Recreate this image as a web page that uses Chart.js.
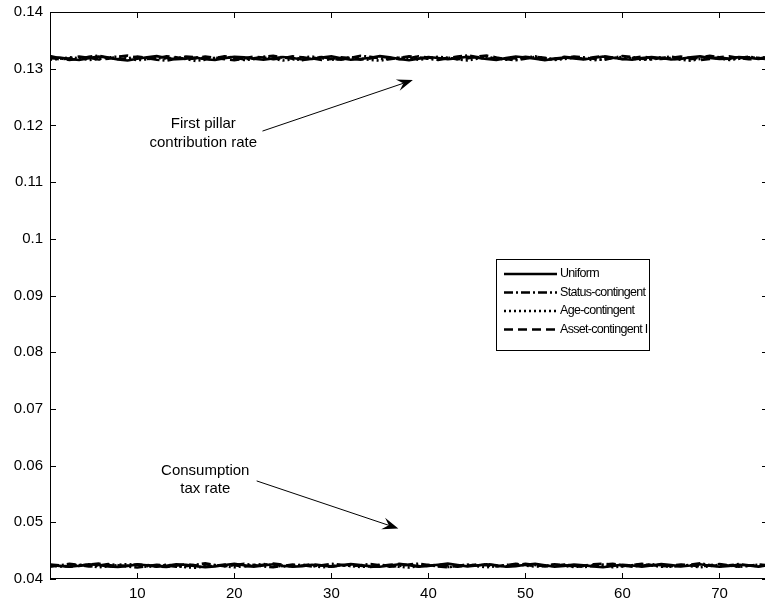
<!DOCTYPE html>
<html>
<head>
<meta charset="utf-8">
<script src="https://cdn.jsdelivr.net/npm/chart.js@4/dist/chart.umd.min.js"></script>
<style>
  html, body { margin: 0; padding: 0; background: #fff; overflow: hidden; }
  #wrap { width: 770px; height: 604px; }
</style>
</head>
<body>
<div id="wrap"><canvas id="c" width="770" height="604"></canvas></div>
<script>
// Periods on the horizontal axis
const periods = Array.from({ length: 75 }, (_, i) => i + 1);

// Axis ticks
const xTickValues = [10, 20, 30, 40, 50, 60, 70];
const yTickValues = [0.04, 0.05, 0.06, 0.07, 0.08, 0.09, 0.10, 0.11, 0.12, 0.13, 0.14];
const yTickLabels = ['0.04', '0.05', '0.06', '0.07', '0.08', '0.09', '0.1', '0.11', '0.12', '0.13', '0.14'];

// Series names
const seriesNames = ['Uniform', 'Status-contingent', 'Age-contingent', 'Asset-contingent I'];

// First pillar contribution rate, per scheme
const uniformContrib = [
  0.13182,0.13198,0.13170,0.13154,0.13186,0.13214,0.13194,0.13162,0.13146,0.13174,
  0.13202,0.13222,0.13190,0.13166,0.13178,0.13198,0.13166,0.13154,0.13186,0.13210,
  0.13202,0.13174,0.13158,0.13182,0.13206,0.13190,0.13162,0.13174,0.13198,0.13218,
  0.13186,0.13158,0.13170,0.13194,0.13222,0.13202,0.13170,0.13150,0.13178,0.13206,
  0.13190,0.13166,0.13186,0.13210,0.13194,0.13170,0.13154,0.13186,0.13214,0.13198,
  0.13174,0.13150,0.13178,0.13198,0.13182,0.13162,0.13190,0.13214,0.13194,0.13170,
  0.13158,0.13186,0.13206,0.13190,0.13162,0.13174,0.13202,0.13218,0.13190,0.13170,
  0.13178,0.13206,0.13194,0.13174,0.13190
];
const statusContrib = [
  0.13222,0.13186,0.13154,0.13174,0.13210,0.13230,0.13198,0.13170,0.13182,0.13214,
  0.13190,0.13158,0.13142,0.13178,0.13214,0.13202,0.13174,0.13190,0.13218,0.13194,
  0.13166,0.13182,0.13210,0.13226,0.13198,0.13174,0.13150,0.13186,0.13206,0.13178,
  0.13158,0.13190,0.13226,0.13210,0.13182,0.13166,0.13194,0.13218,0.13198,0.13174,
  0.13154,0.13186,0.13214,0.13234,0.13206,0.13174,0.13190,0.13170,0.13150,0.13178,
  0.13210,0.13194,0.13166,0.13186,0.13214,0.13202,0.13174,0.13154,0.13190,0.13222,
  0.13206,0.13178,0.13162,0.13190,0.13214,0.13182,0.13166,0.13198,0.13226,0.13202,
  0.13174,0.13186,0.13210,0.13190,0.13166
];
const ageContrib = [
  0.13158,0.13174,0.13202,0.13186,0.13154,0.13170,0.13198,0.13214,0.13182,0.13150,
  0.13166,0.13194,0.13178,0.13198,0.13170,0.13138,0.13158,0.13186,0.13210,0.13182,
  0.13154,0.13170,0.13198,0.13174,0.13146,0.13162,0.13194,0.13214,0.13186,0.13158,
  0.13174,0.13202,0.13178,0.13154,0.13142,0.13170,0.13198,0.13186,0.13158,0.13182,
  0.13210,0.13194,0.13166,0.13146,0.13174,0.13202,0.13186,0.13158,0.13170,0.13198,
  0.13218,0.13186,0.13154,0.13170,0.13194,0.13178,0.13150,0.13166,0.13186,0.13210,
  0.13182,0.13154,0.13174,0.13202,0.13186,0.13158,0.13142,0.13170,0.13198,0.13182,
  0.13154,0.13174,0.13202,0.13186,0.13210
];
const assetContrib = [
  0.13198,0.13166,0.13182,0.13214,0.13194,0.13162,0.13178,0.13210,0.13230,0.13198,
  0.13170,0.13186,0.13218,0.13202,0.13170,0.13182,0.13214,0.13194,0.13166,0.13150,
  0.13182,0.13214,0.13198,0.13166,0.13186,0.13218,0.13202,0.13182,0.13154,0.13170,
  0.13202,0.13186,0.13158,0.13182,0.13210,0.13194,0.13166,0.13186,0.13218,0.13198,
  0.13170,0.13190,0.13166,0.13182,0.13214,0.13230,0.13198,0.13170,0.13186,0.13210,
  0.13186,0.13158,0.13174,0.13210,0.13190,0.13174,0.13202,0.13222,0.13198,0.13166,
  0.13186,0.13214,0.13190,0.13170,0.13190,0.13214,0.13186,0.13154,0.13170,0.13202,
  0.13218,0.13190,0.13166,0.13178,0.13202
];

// Consumption tax rate, per scheme
const uniformTax = [
  0.04247,0.04231,0.04215,0.04235,0.04259,0.04247,0.04223,0.04211,0.04231,0.04255,
  0.04243,0.04219,0.04231,0.04259,0.04251,0.04227,0.04207,0.04223,0.04247,0.04267,
  0.04243,0.04219,0.04239,0.04259,0.04235,0.04215,0.04227,0.04251,0.04239,0.04219,
  0.04243,0.04263,0.04247,0.04223,0.04215,0.04239,0.04259,0.04243,0.04219,0.04231,
  0.04251,0.04271,0.04247,0.04223,0.04239,0.04259,0.04239,0.04215,0.04227,0.04251,
  0.04267,0.04243,0.04219,0.04231,0.04255,0.04243,0.04223,0.04207,0.04231,0.04251,
  0.04239,0.04219,0.04239,0.04263,0.04247,0.04223,0.04239,0.04259,0.04235,0.04215,
  0.04231,0.04251,0.04239,0.04219,0.04243
];
const statusTax = [
  0.04215,0.04239,0.04267,0.04247,0.04223,0.04235,0.04263,0.04243,0.04219,0.04203,
  0.04227,0.04251,0.04239,0.04215,0.04227,0.04251,0.04275,0.04247,0.04227,0.04243,
  0.04267,0.04247,0.04223,0.04207,0.04231,0.04255,0.04243,0.04223,0.04243,0.04267,
  0.04251,0.04227,0.04243,0.04263,0.04243,0.04219,0.04231,0.04255,0.04271,0.04247,
  0.04223,0.04207,0.04231,0.04251,0.04239,0.04263,0.04243,0.04223,0.04243,0.04267,
  0.04247,0.04223,0.04235,0.04255,0.04235,0.04211,0.04231,0.04255,0.04267,0.04243,
  0.04219,0.04235,0.04259,0.04243,0.04219,0.04231,0.04251,0.04275,0.04247,0.04227,
  0.04243,0.04263,0.04243,0.04223,0.04247
];
const ageTax = [
  0.04239,0.04219,0.04231,0.04251,0.04231,0.04207,0.04223,0.04247,0.04263,0.04239,
  0.04215,0.04227,0.04251,0.04231,0.04207,0.04199,0.04223,0.04243,0.04227,0.04207,
  0.04227,0.04247,0.04263,0.04239,0.04219,0.04231,0.04251,0.04231,0.04207,0.04223,
  0.04247,0.04231,0.04211,0.04227,0.04251,0.04235,0.04215,0.04203,0.04227,0.04247,
  0.04231,0.04211,0.04231,0.04251,0.04227,0.04207,0.04223,0.04247,0.04263,0.04239,
  0.04219,0.04231,0.04251,0.04231,0.04211,0.04227,0.04247,0.04231,0.04207,0.04223,
  0.04243,0.04259,0.04239,0.04215,0.04227,0.04247,0.04227,0.04207,0.04227,0.04251,
  0.04235,0.04215,0.04231,0.04251,0.04231
];
const assetTax = [
  0.04255,0.04239,0.04219,0.04231,0.04255,0.04271,0.04247,0.04227,0.04239,0.04259,
  0.04247,0.04223,0.04211,0.04235,0.04259,0.04243,0.04219,0.04231,0.04255,0.04243,
  0.04219,0.04231,0.04251,0.04271,0.04251,0.04227,0.04239,0.04259,0.04243,0.04223,
  0.04235,0.04255,0.04235,0.04211,0.04227,0.04251,0.04267,0.04247,0.04223,0.04235,
  0.04255,0.04239,0.04219,0.04231,0.04255,0.04243,0.04223,0.04243,0.04267,0.04247,
  0.04227,0.04239,0.04259,0.04243,0.04219,0.04235,0.04259,0.04271,0.04247,0.04227,
  0.04247,0.04267,0.04247,0.04223,0.04235,0.04255,0.04243,0.04223,0.04243,0.04263,
  0.04243,0.04219,0.04235,0.04255,0.04243
];

// Line dash per scheme: solid, dash-dot, dotted, dashed
const dashes = [[], [9, 3, 2, 3], [2, 3], [9, 5]];
const FONT = '"Liberation Sans", Arial, Helvetica, sans-serif';
const LINE_W = 2.6;

function toPoints(values) {
  return values.map((v, i) => ({ x: periods[i], y: v }));
}

const contribSeries = [uniformContrib, statusContrib, ageContrib, assetContrib];
const taxSeries = [uniformTax, statusTax, ageTax, assetTax];

const datasets = [];
[contribSeries, taxSeries].forEach(group => group.forEach((vals, k) => datasets.push({
  label: seriesNames[k], data: toPoints(vals), borderColor: '#000', borderWidth: LINE_W,
  borderDash: dashes[k], pointRadius: 0, tension: 0, fill: false
})));

// Frame, inward tick marks, legend box and text arrows
const decorations = {
  id: 'decorations',
  afterDatasetsDraw(chart) {
    const { ctx, chartArea: a, scales: { x, y } } = chart;
    ctx.save();
    ctx.strokeStyle = '#000';
    ctx.lineWidth = 1;
    ctx.setLineDash([]);
    ctx.strokeRect(a.left + 0.5, a.top + 0.5, a.right - a.left - 1, a.bottom - a.top - 1);

    const tl = 6;
    ctx.beginPath();
    xTickValues.forEach(v => {
      const px = Math.round(x.getPixelForValue(v)) + 0.5;
      ctx.moveTo(px, a.bottom); ctx.lineTo(px, a.bottom - tl);
      ctx.moveTo(px, a.top); ctx.lineTo(px, a.top + tl);
    });
    yTickValues.forEach(v => {
      const py = Math.round(y.getPixelForValue(v)) + 0.5;
      ctx.moveTo(a.left, py); ctx.lineTo(a.left + tl, py);
      ctx.moveTo(a.right, py); ctx.lineTo(a.right - tl, py);
    });
    ctx.stroke();

    // Legend
    const lx = 496, ly = 259, lw = 153, lh = 91;
    ctx.fillStyle = '#fff';
    ctx.fillRect(lx, ly, lw, lh);
    ctx.strokeRect(lx + 0.5, ly + 0.5, lw, lh);
    ctx.font = '12.5px ' + FONT;
    ctx.textBaseline = 'middle';
    ctx.textAlign = 'left';
    ctx.letterSpacing = '-0.7px';
    seriesNames.forEach((name, k) => {
      const ry = ly + 15 + k * 18.5;
      ctx.beginPath();
      ctx.lineWidth = LINE_W;
      ctx.setLineDash(dashes[k]);
      ctx.moveTo(lx + 8, ry); ctx.lineTo(lx + 61, ry);
      ctx.stroke();
      ctx.setLineDash([]);
      ctx.fillStyle = '#000';
      ctx.fillText(name, lx + 64, ry);
    });
    ctx.letterSpacing = '0px';

    // Annotations anchored in data coordinates
    ctx.lineWidth = 1;
    ctx.font = '15px ' + FONT;
    ctx.textAlign = 'center';
    ctx.fillStyle = '#000';
    const note = (lines, tx, ty, lineGap, from, to) => {
      const cx = x.getPixelForValue(tx);
      lines.forEach((t, i) => ctx.fillText(t, cx, y.getPixelForValue(ty) + i * lineGap));
      const x0 = x.getPixelForValue(from[0]), y0 = y.getPixelForValue(from[1]);
      const x1 = x.getPixelForValue(to[0]), y1 = y.getPixelForValue(to[1]);
      const ang = Math.atan2(y1 - y0, x1 - x0);
      const c = Math.cos(ang), s = Math.sin(ang);
      const hl = 16, hw = 6, back = 10;
      ctx.beginPath();
      ctx.moveTo(x0, y0);
      ctx.lineTo(x1 - back * c, y1 - back * s);
      ctx.stroke();
      const bx = x1 - hl * c, by = y1 - hl * s;
      ctx.beginPath();
      ctx.moveTo(x1, y1);
      ctx.lineTo(bx - s * hw, by + c * hw);
      ctx.lineTo(x1 - back * c, y1 - back * s);
      ctx.lineTo(bx + s * hw, by - c * hw);
      ctx.closePath();
      ctx.fill();
    };
    note(['First pillar', 'contribution rate'], 16.8, 0.1202, 19, [22.9, 0.1190], [38.4, 0.1280]);
    note(['Consumption', 'tax rate'], 17.0, 0.0590, 18, [22.3, 0.0573], [36.9, 0.0489]);
    ctx.restore();
  }
};

new Chart(document.getElementById('c'), {
  type: 'line',
  data: { datasets },
  options: {
    responsive: false,
    animation: false,
    events: [],
    layout: { padding: { top: 12, right: 2, left: 0, bottom: 0 } },
    plugins: { legend: { display: false }, tooltip: { enabled: false } },
    scales: {
      x: {
        type: 'linear', min: 1, max: 75,
        grid: { display: false, drawTicks: false },
        border: { display: false },
        afterBuildTicks: s => { s.ticks = xTickValues.map(v => ({ value: v })); },
        afterFit: s => { s.height = 25; s.paddingLeft = 0; s.paddingRight = 0; },
        ticks: { color: '#000', padding: 6, maxRotation: 0, autoSkip: false,
                 font: { family: FONT, size: 15 }, callback: v => String(v) }
      },
      y: {
        type: 'linear', min: 0.04, max: 0.14,
        grid: { display: false, drawTicks: false },
        border: { display: false },
        afterBuildTicks: s => { s.ticks = yTickValues.map(v => ({ value: v })); },
        afterFit: s => { s.width = 50; s.paddingTop = 0; s.paddingBottom = 0; },
        ticks: { color: '#000', padding: 7, autoSkip: false,
                 font: { family: FONT, size: 15 },
                 callback: (v, i) => yTickLabels[i] }
      }
    }
  },
  plugins: [decorations]
});
</script>
</body>
</html>
